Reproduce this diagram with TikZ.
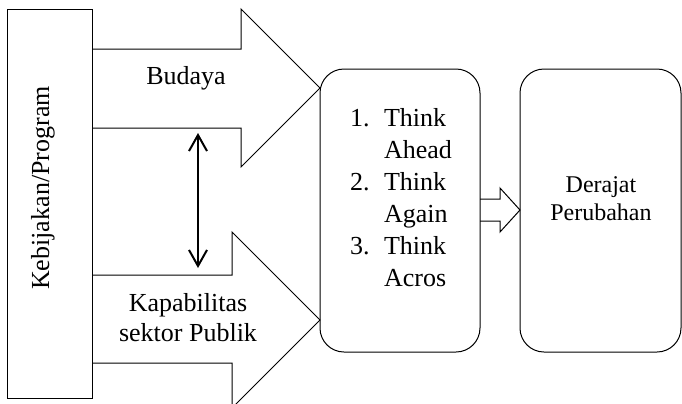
\documentclass[tikz,border=0pt]{standalone}
\usepackage{fontspec}
\setmainfont{Liberation Serif}
\usetikzlibrary{arrows.meta}

\tikzstyle{panel}=[draw,rectangle,minimum width=42pt,minimum height=194.5pt,inner sep=0pt,line width=0.5pt]
\tikzstyle{stage}=[draw,rectangle,rounded corners=12pt,minimum width=80pt,minimum height=141.5pt,inner sep=0pt,line width=0.5pt]
\tikzstyle{txt}=[inner sep=0pt,font=\fontsize{13}{15}\selectfont]
\tikzstyle{blockarrow}=[draw,line width=0.5pt,line join=miter]
\tikzstyle{link}=[line width=1pt,{Straight Barb[length=8pt,width=9pt]}-{Straight Barb[length=8pt,width=9pt]}]

\begin{document}
\begin{tikzpicture}[x=0.5pt,y=-0.5pt]
	\useasboundingbox (0,0) rectangle (682,403);
	%The three boxes
	\node[panel] (kebijakan) at (50,203.5) {};
	\node[stage] (think) at (400,210.5) {};
	\node[stage,minimum width=80.5pt] (derajat) at (600.5,210.5) {};
	%Corner points of the block arrows
	\foreach \name/\x/\y in {a1/92/49,	a2/241/49,	a3/241/9,	a4/320/88,
							a5/241/167,	a6/241/128,	a7/92/128}
		\coordinate (\name) at (\x,\y);
	\foreach \name/\x/\y in {b1/92/275,	b2/232/275,	b3/232/232,	b4/320/320,
							b5/232/408,	b6/232/363,	b7/92/363}
		\coordinate (\name) at (\x,\y);
	\foreach \name/\x/\y in {c1/480/199,	c2/500/199,	c3/500/188,	c4/520/210,
							c5/500/232,	c6/500/221,	c7/480/221}
		\coordinate (\name) at (\x,\y);
	\draw[blockarrow] (a1) -- (a2) -- (a3) -- (a4) -- (a5) -- (a6) -- (a7);
	\draw[blockarrow] (b1) -- (b2) -- (b3) -- (b4) -- (b5) -- (b6) -- (b7);
	\draw[blockarrow] (c1) -- (c2) -- (c3) -- (c4) -- (c5) -- (c6) -- (c7);
	%The double arrow between the two block arrows
	\coordinate (dtop) at (198,133);
	\coordinate (dbot) at (198,268);
	\draw[link] (dtop) -- (dbot);
	%Texts
	\node[txt,rotate=90] (kebijakanlbl) at (43,188) {Kebijakan/Program};
	\node[txt] (budaya) at (186,78) {Budaya};
	\node[txt,align=center] (kapabilitas) at (188,318) {Kapabilitas\\sektor Publik};
	\node[txt,font=\fontsize{13}{16}\selectfont] (langkah) at (401,200) {%
		\begin{tabular}{@{}p{17pt}@{}l@{}}
			1. & Think\\ & Ahead\\
			2. & Think\\ & Again\\
			3. & Think\\ & Acros
		\end{tabular}};
	\node[txt,font=\fontsize{12}{14}\selectfont,align=center] (derajatlbl) at (601,199) {Derajat\\Perubahan};
\end{tikzpicture}
\end{document}
